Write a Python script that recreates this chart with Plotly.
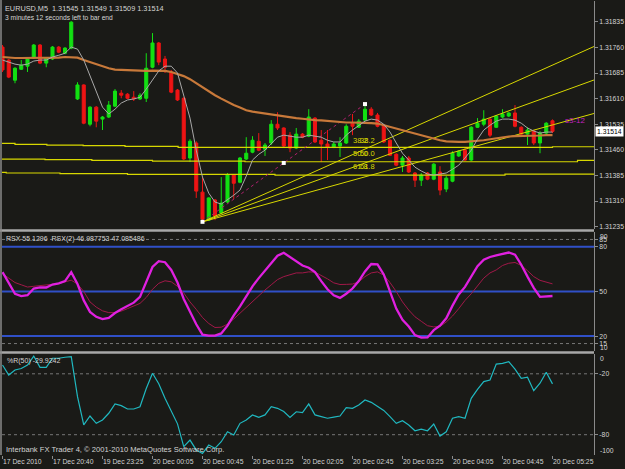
import plotly.graph_objects as go

# ---------------- data ----------------
tick_bars = [0, 8, 16, 24, 32, 40, 48, 56, 64, 72, 80, 88]
tick_labels = ["17 Dec 2010", "17 Dec 20:40", "19 Dec 23:25", "20 Dec 00:05", "20 Dec 00:45",
               "20 Dec 01:25", "20 Dec 02:05", "20 Dec 02:45", "20 Dec 03:25", "20 Dec 04:05",
               "20 Dec 04:45", "20 Dec 05:25"]

open_ = [1.31761, 1.31723, 1.31664, 1.31696, 1.31705, 1.31729, 1.31767, 1.31714, 1.31726, 1.31761,
         1.31743, 1.31758, 1.31609, 1.31650, 1.31535, 1.31585, 1.31550, 1.31556, 1.31588, 1.31626,
         1.31623, 1.31614, 1.31609, 1.31611, 1.31702, 1.31773, 1.31726, 1.31688, 1.31635, 1.31611,
         1.31436, 1.31480, 1.31336, 1.31254, 1.31313, 1.31275, 1.31307, 1.31386, 1.31365, 1.31433,
         1.31453, 1.31485, 1.31462, 1.31480, 1.31535, 1.31524, 1.31503, 1.31465, 1.31506, 1.31500,
         1.31553, 1.31488, 1.31477, 1.31468, 1.31471, 1.31480, 1.31538, 1.31526, 1.31547, 1.31579,
         1.31562, 1.31532, 1.31488, 1.31447, 1.31415, 1.31436, 1.31392, 1.31371, 1.31392, 1.31374,
         1.31395, 1.31345, 1.31368, 1.31442, 1.31459, 1.31430, 1.31526, 1.31535, 1.31550, 1.31526,
         1.31556, 1.31559, 1.31568, 1.31526, 1.31506, 1.31515, 1.31480, 1.31509, 1.31545]
high = [1.31767, 1.31726, 1.31702, 1.31723, 1.31729, 1.31770, 1.31770, 1.31732, 1.31764, 1.31764,
        1.31761, 1.31837, 1.31658, 1.31652, 1.31588, 1.31588, 1.31559, 1.31603, 1.31638, 1.31635,
        1.31626, 1.31632, 1.31626, 1.31743, 1.31802, 1.31776, 1.31735, 1.31694, 1.31638, 1.31614,
        1.31491, 1.31485, 1.31380, 1.31321, 1.31316, 1.31380, 1.31392, 1.31389, 1.31439, 1.31497,
        1.31500, 1.31509, 1.31480, 1.31547, 1.31570, 1.31526, 1.31512, 1.31524, 1.31509, 1.31579,
        1.31556, 1.31518, 1.31518, 1.31483, 1.31497, 1.31535, 1.31565, 1.31550, 1.31594, 1.31585,
        1.31568, 1.31535, 1.31491, 1.31450, 1.31442, 1.31442, 1.31395, 1.31392, 1.31395, 1.31421,
        1.31412, 1.31383, 1.31456, 1.31459, 1.31465, 1.31529, 1.31553, 1.31576, 1.31553, 1.31562,
        1.31579, 1.31570, 1.31591, 1.31529, 1.31526, 1.31518, 1.31515, 1.31541, 1.31549]
low = [1.31688, 1.31670, 1.31655, 1.31694, 1.31688, 1.31726, 1.31711, 1.31702, 1.31723, 1.31743,
       1.31740, 1.31755, 1.31606, 1.31535, 1.31529, 1.31526, 1.31518, 1.31553, 1.31585, 1.31611,
       1.31609, 1.31603, 1.31606, 1.31600, 1.31699, 1.31708, 1.31685, 1.31626, 1.31603, 1.31430,
       1.31424, 1.31319, 1.31249, 1.31252, 1.31254, 1.31272, 1.31304, 1.31316, 1.31362, 1.31430,
       1.31450, 1.31456, 1.31442, 1.31474, 1.31518, 1.31468, 1.31453, 1.31462, 1.31494, 1.31497,
       1.31480, 1.31424, 1.31430, 1.31465, 1.31439, 1.31477, 1.31503, 1.31524, 1.31544, 1.31559,
       1.31526, 1.31480, 1.31442, 1.31412, 1.31395, 1.31392, 1.31351, 1.31354, 1.31371, 1.31371,
       1.31327, 1.31336, 1.31365, 1.31439, 1.31427, 1.31427, 1.31524, 1.31529, 1.31497, 1.31524,
       1.31553, 1.31556, 1.31526, 1.31503, 1.31474, 1.31474, 1.31450, 1.31506, 1.31509]
close = [1.31694, 1.31673, 1.31699, 1.31708, 1.31726, 1.31767, 1.31714, 1.31729, 1.31761, 1.31746,
         1.31758, 1.31834, 1.31650, 1.31538, 1.31585, 1.31544, 1.31556, 1.31591, 1.31632, 1.31620,
         1.31611, 1.31609, 1.31620, 1.31699, 1.31773, 1.31717, 1.31702, 1.31629, 1.31606, 1.31433,
         1.31485, 1.31339, 1.31257, 1.31319, 1.31266, 1.31304, 1.31386, 1.31362, 1.31436, 1.31450,
         1.31488, 1.31459, 1.31474, 1.31535, 1.31524, 1.31471, 1.31465, 1.31506, 1.31497, 1.31556,
         1.31483, 1.31477, 1.31468, 1.31477, 1.31480, 1.31529, 1.31529, 1.31544, 1.31579, 1.31562,
         1.31529, 1.31483, 1.31444, 1.31415, 1.31436, 1.31395, 1.31371, 1.31386, 1.31374, 1.31418,
         1.31342, 1.31377, 1.31450, 1.31456, 1.31430, 1.31526, 1.31538, 1.31550, 1.31503, 1.31559,
         1.31565, 1.31568, 1.31529, 1.31506, 1.31518, 1.31480, 1.31509, 1.31538, 1.31514]

ma_slow = [1.31732, 1.31730, 1.31729, 1.31729, 1.31729, 1.31729, 1.31729, 1.31729, 1.31730, 1.31730,
           1.31732, 1.31732, 1.31730, 1.31723, 1.31717, 1.31710, 1.31704, 1.31699, 1.31695, 1.31694,
           1.31692, 1.31691, 1.31691, 1.31691, 1.31692, 1.31692, 1.31691, 1.31688, 1.31683, 1.31676,
           1.31667, 1.31655, 1.31644, 1.31632, 1.31620, 1.31610, 1.31600, 1.31591, 1.31584, 1.31576,
           1.31572, 1.31569, 1.31566, 1.31563, 1.31560, 1.31557, 1.31554, 1.31553, 1.31551, 1.31548,
           1.31547, 1.31546, 1.31544, 1.31543, 1.31541, 1.31540, 1.31540, 1.31540, 1.31540, 1.31538,
           1.31537, 1.31532, 1.31527, 1.31522, 1.31518, 1.31512, 1.31507, 1.31503, 1.31499, 1.31494,
           1.31488, 1.31485, 1.31483, 1.31483, 1.31483, 1.31484, 1.31485, 1.31488, 1.31491, 1.31494,
           1.31497, 1.31499, 1.31500, 1.31500, 1.31502, 1.31502, 1.31502, 1.31503, 1.31503]
ma_fast = [1.31723, 1.31717, 1.31711, 1.31708, 1.31711, 1.31720, 1.31723, 1.31723, 1.31732, 1.31737,
           1.31743, 1.31761, 1.31755, 1.31723, 1.31676, 1.31629, 1.31585, 1.31565, 1.31579, 1.31597,
           1.31606, 1.31609, 1.31614, 1.31638, 1.31664, 1.31691, 1.31705, 1.31705, 1.31685, 1.31620,
           1.31553, 1.31459, 1.31380, 1.31333, 1.31307, 1.31301, 1.31313, 1.31327, 1.31342, 1.31383,
           1.31430, 1.31447, 1.31459, 1.31477, 1.31497, 1.31503, 1.31500, 1.31497, 1.31497, 1.31503,
           1.31500, 1.31497, 1.31488, 1.31483, 1.31483, 1.31503, 1.31518, 1.31532, 1.31544, 1.31550,
           1.31547, 1.31535, 1.31512, 1.31480, 1.31450, 1.31430, 1.31409, 1.31398, 1.31389, 1.31386,
           1.31389, 1.31392, 1.31403, 1.31415, 1.31436, 1.31459, 1.31491, 1.31518, 1.31532, 1.31544,
           1.31550, 1.31550, 1.31547, 1.31538, 1.31524, 1.31515, 1.31509, 1.31512, 1.31512]

# stepped level lines (bar position, price)
level_a_x = [-0.08, 2, 7.1, 12.9, 19.6, 28.1, 88, 94.64]
level_a_y = [1.31479, 1.31476, 1.31474, 1.31472, 1.31470, 1.31467, 1.31469, 1.31469]
level_b_x = [-0.08, 6.8, 14.3, 24, 38.8, 92, 94.64]
level_b_y = [1.31433, 1.31431, 1.31429, 1.31427, 1.31425, 1.31429, 1.31429]
level_c_x = [-0.08, 0.6, 9.2, 20, 43.6, 80.4, 94.64]
level_c_y = [1.31394, 1.31392, 1.31390, 1.31388, 1.31386, 1.31389, 1.31389]

fan_levels = [0.382, 0.5, 0.618]
fan_labels = ["38.2", "50.0", "61.8"]
fan_p1_bar, fan_p2_bar = 32, 58

rsx_fast = [63, 56, 48.5, 46.9, 47.5, 52, 52.7, 52.7, 54.7, 55.5,
            57, 63, 55, 44, 36.3, 33, 31.4, 32.3, 35.5, 38,
            40.5, 42.5, 46.4, 56, 66.5, 70.4, 69.7, 64.5, 56, 45,
            36.5, 28, 21, 20.3, 20.3, 21.8, 27, 34, 40, 46.5,
            53.5, 59, 64, 68.5, 74, 76, 73.3, 70.5, 67.5, 66,
            63, 57, 51.5, 47.5, 45.7, 48.5, 52, 57, 63.5, 68.5,
            68.3, 61.5, 50, 38.5, 31, 26.5, 20.7, 19, 19.1, 24,
            27, 32, 40.5, 48, 53.1, 60, 67, 71.3, 73.2, 74.3,
            75.5, 76.2, 74.8, 68, 60, 52.5, 46.4, 46.9, 46.987753]
rsx_slow = [62, 59, 56, 54.5, 53, 53.5, 54, 54.2, 54.5, 55.3,
            56.5, 57.6, 55, 50, 43, 39.5, 37, 35.8, 35.8, 36.8,
            38.5, 40.5, 42, 46, 51.5, 55.5, 57.2, 56.5, 53.5, 49,
            43, 38, 32.5, 28.5, 25.8, 26, 28, 31.5, 35.5, 39.5,
            43.5, 47.5, 51, 54.5, 58, 60, 61.5, 62.5, 62.5, 63.2,
            63, 61, 58.5, 55.8, 54.7, 54.8, 55, 56.5, 60, 62.5,
            63.2, 61, 56, 50, 43, 37.5, 33, 30, 27, 26.2,
            26.5, 29.5, 33.5, 38.5, 44, 48.5, 54, 59, 62.5, 64.5,
            67.5, 69, 69.5, 67.5, 64, 60, 57.5, 56.5, 55.1296]
rsx_levels_solid = [80, 50, 20]
rsx_levels_dot = [85, 15]

wpr = [-11.3, -21.2, -16.3, -14.8, -11.3, -2.5, -13.6, -13.6, -4.7, -4.7,
       -3.7, -3.2, -42.5, -70.4, -61.6, -68.8, -65.5, -58.9, -49.7, -51.4,
       -54.7, -54.7, -52.4, -34.5, -19.5, -29.8, -44.2, -57.1, -69.3, -91.8,
       -85.3, -95, -98.5, -90.2, -93.4, -86.9, -77.1, -80.3, -68.8, -65.5,
       -60.5, -62.9, -60.5, -52.4, -54, -57.1, -62.9, -57.4, -58.3, -49.7,
       -60.5, -62.2, -63.8, -62.7, -61.6, -53.4, -54, -50.8, -45.8, -48.1,
       -52.4, -56.1, -62.2, -68.8, -66.2, -70.4, -76.1, -74.6, -76.1, -69.5,
       -81.3, -77.1, -63.8, -62.2, -63.8, -44.2, -35.3, -27.7, -26.1, -10.4,
       -9.7, -8.1, -15.5, -24.5, -23.4, -36.7, -29.3, -18.5, -29.9242]
wpr_levels = [-20, -80]

price_ticks = [1.31835, 1.31760, 1.31685, 1.31610, 1.31535, 1.31460, 1.31385, 1.31310, 1.31235]

# ---------------- layout geometry ----------------
W, H = 625, 469
ML, MR, MT, MB = 2, 31, 1, 14
PW, PH = W - ML - MR, H - MT - MB
XR = [-0.08, 94.64]


def fy(py):
    return (H - MB - py) / PH


def fx(px):
    return (px - ML) / PW


bars = list(range(len(close)))
BG = "#1a1a17"
TXT = "#d4d4d4"
FONT = "Liberation Sans, Arial"
YEL = "#d8d800"
TS = 6.8  # tick font size

fig = go.Figure()

# level lines
for xs, ys in [(level_a_x, level_a_y), (level_b_x, level_b_y), (level_c_x, level_c_y)]:
    fig.add_trace(go.Scatter(x=xs, y=ys, mode="lines", line=dict(color=YEL, width=1.2, shape="hv"),
                             yaxis="y", hoverinfo="skip"))

# fib fan
lo, hi = low[fan_p1_bar], high[fan_p2_bar]
for lv in fan_levels:
    yl = hi - lv * (hi - lo)
    slope = (yl - lo) / (fan_p2_bar - fan_p1_bar)
    fig.add_trace(go.Scatter(x=[fan_p1_bar, XR[1]], y=[lo, lo + slope * (XR[1] - fan_p1_bar)],
                             mode="lines", line=dict(color=YEL, width=1), yaxis="y", hoverinfo="skip"))
fig.add_trace(go.Scatter(x=[fan_p1_bar, fan_p2_bar], y=[lo, hi], mode="lines",
                         line=dict(color="#b0206e", width=1, dash="dot"), yaxis="y", hoverinfo="skip"))

# moving averages
fig.add_trace(go.Scatter(x=bars, y=ma_slow, mode="lines", line=dict(color="#c8793a", width=2.2),
                         yaxis="y", hoverinfo="skip"))
fig.add_trace(go.Scatter(x=bars, y=ma_fast, mode="lines", line=dict(color="#a8a8a8", width=1),
                         yaxis="y", hoverinfo="skip"))

# candles
fig.add_trace(go.Candlestick(x=bars, open=open_, high=high, low=low, close=close,
                             increasing=dict(line=dict(color="#12e012", width=1), fillcolor="#12e012"),
                             decreasing=dict(line=dict(color="#ee1414", width=1), fillcolor="#ee1414"),
                             whiskerwidth=0, yaxis="y", hoverinfo="skip"))

# fan anchor markers
fig.add_trace(go.Scatter(x=[fan_p1_bar, (fan_p1_bar + fan_p2_bar) / 2, fan_p2_bar],
                         y=[lo, (lo + hi) / 2, hi], mode="markers",
                         marker=dict(symbol="square", size=4, color="white"), yaxis="y", hoverinfo="skip"))

# RSX
fig.add_trace(go.Scatter(x=bars, y=rsx_slow, mode="lines", line=dict(color="#a01848", width=1),
                         yaxis="y2", hoverinfo="skip"))
fig.add_trace(go.Scatter(x=bars, y=rsx_fast, mode="lines", line=dict(color="#e020e0", width=2.3),
                         yaxis="y2", hoverinfo="skip"))

# %R
fig.add_trace(go.Scatter(x=bars, y=wpr, mode="lines", line=dict(color="#20b8c0", width=1.2),
                         yaxis="y3", hoverinfo="skip"))

shapes = []
for v in rsx_levels_solid:
    shapes.append(dict(type="line", xref="paper", yref="y2", x0=0, x1=1, y0=v, y1=v,
                       line=dict(color="#3050c8", width=2), layer="below"))
for v in rsx_levels_dot:
    shapes.append(dict(type="line", xref="paper", yref="y2", x0=0, x1=1, y0=v, y1=v,
                       line=dict(color="#777777", width=1, dash="dot"), layer="below"))
for v in wpr_levels:
    shapes.append(dict(type="line", xref="paper", yref="y3", x0=0, x1=1, y0=v, y1=v,
                       line=dict(color="#777777", width=1, dash="dot"), layer="below"))
for py in [230.5, 352.5]:
    shapes.append(dict(type="line", xref="paper", yref="paper", x0=fx(0), x1=1, y0=fy(py), y1=fy(py),
                       line=dict(color="#a8a8a8", width=2.5)))
shapes.append(dict(type="line", xref="paper", yref="paper", x0=fx(1), x1=fx(1), y0=0, y1=fy(0),
                   line=dict(color="#8a8a8a", width=1.5)))

ann = []


def text(px, py, s, color=TXT, size=7, anchor="left"):
    ann.append(dict(x=fx(px), y=fy(py), xref="paper", yref="paper", text=s, showarrow=False,
                    xanchor=anchor, yanchor="middle", font=dict(color=color, size=size, family=FONT)))


text(3, 8, f"EURUSD,M5  {open_[-1]:.5f} {high[-1]:.5f} {low[-1]:.5f} {close[-1]:.5f}", size=7.3)
text(3, 17, "3 minutes 12 seconds left to bar end", size=6.7)
text(4, 239, f"RSX {rsx_slow[-1]:.4f}  RSX(2) {rsx_fast[-1]:.6f} 47.085486", size=7)
text(5, 361, f"%R(50) {wpr[-1]:.4f}", size=7)
text(4, 449, "Interbank FX Trader 4, © 2001-2010 MetaQuotes Software Corp.", size=7.6)
for lab, py in zip(fan_labels, [140, 154, 167]):
    text(351, py, lab, color=YEL, size=7.5)
    text(358, py, lab, color=YEL, size=7.5)
text(563, 120, "s3-12", color="#c020c0", size=8)
text(598, 236.5, "90", size=TS)
text(598, 347, "10", size=TS)
text(598, 358, "0", size=TS)
text(598, 450, "-100", size=TS)

ann.append(dict(x=1, xref="paper", y=close[-1], yref="y", text=f"{close[-1]:.5f}", showarrow=False,
                xanchor="left", yanchor="middle", xshift=1, bgcolor="#ffffff", borderpad=1,
                font=dict(color="#000000", size=TS, family=FONT)))

axis_common = dict(showgrid=False, zeroline=False, fixedrange=True, side="right", anchor="x",
                   showline=True, linecolor="#8a8a8a", linewidth=1, ticks="outside", ticklen=3,
                   tickcolor="#8a8a8a", tickfont=dict(color=TXT, size=TS, family=FONT),
                   automargin=False)

fig.update_layout(
    width=W, height=H, margin=dict(l=ML, r=MR, t=MT, b=MB, autoexpand=False),
    paper_bgcolor=BG, plot_bgcolor=BG, showlegend=False,
    xaxis=dict(range=XR, anchor="y3", showgrid=False, zeroline=False, fixedrange=True,
               rangeslider=dict(visible=False), tickvals=tick_bars, ticktext=tick_labels,
               tickangle=0, automargin=False,
               ticks="outside", ticklen=3, tickcolor="#8a8a8a", ticklabelposition="outside right",
               tickfont=dict(color=TXT, size=TS, family=FONT), showline=False),
    yaxis=dict(domain=[fy(229), 1], range=[1.31228, 1.31896], tickvals=price_ticks,
               ticktext=[f"{v:.5f}" for v in price_ticks], **axis_common),
    yaxis2=dict(domain=[fy(351), fy(232)], range=[10, 90], tickvals=[85, 80, 50, 20, 15],
                ticktext=["85", "80", "50", "20", "15"], **axis_common),
    yaxis3=dict(domain=[0, fy(353.5)], range=[-100, 0], tickvals=[-20, -80],
                ticktext=["-20", "-80"], **axis_common),
    shapes=shapes, annotations=ann,
)

fig.write_html("out.html")
